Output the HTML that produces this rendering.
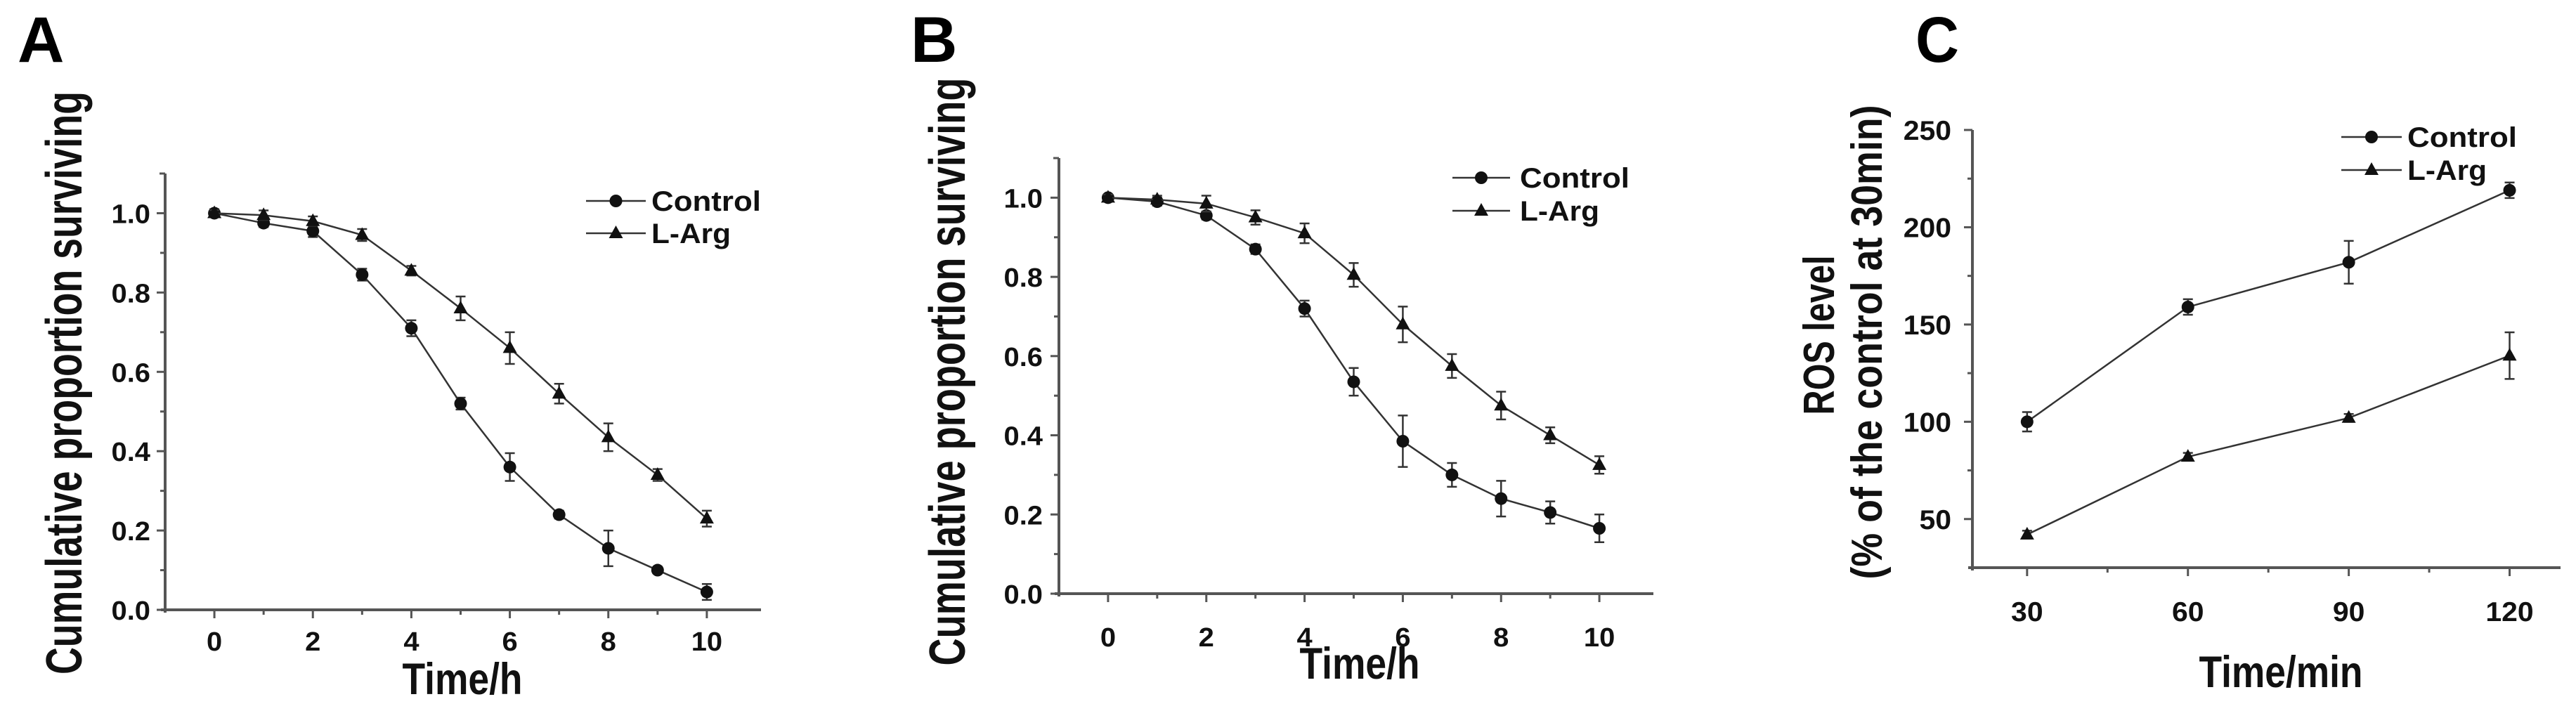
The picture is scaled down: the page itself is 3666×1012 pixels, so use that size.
<!DOCTYPE html>
<html><head><meta charset="utf-8"><style>
html,body{margin:0;padding:0;background:#fff;}
svg{display:block;font-family:"Liberation Sans",Arial,sans-serif;font-weight:bold;}
</style></head><body>
<svg id="fig" width="3666" height="1012" viewBox="0 0 3666 1012" xmlns="http://www.w3.org/2000/svg">
<text x="25" y="88" font-size="92">A</text>
<text x="1296" y="88" font-size="92">B</text>
<text x="2726" y="88" font-size="92" textLength="62" lengthAdjust="spacingAndGlyphs">C</text>
</svg>
<script>
// Panel A data
const hoursA = [0,1,2,3,4,5,6,7,8,9,10];
const ctrlA = [1.0,0.975,0.955,0.845,0.71,0.52,0.36,0.24,0.155,0.10,0.045];
const ctrlErrA = [0.01,0.01,0.015,0.015,0.02,0.015,0.035,0.01,0.045,0.008,0.02];
const argA = [1.0,0.995,0.98,0.945,0.855,0.76,0.66,0.545,0.435,0.34,0.23];
const argErrA = [0.008,0.012,0.012,0.015,0.012,0.03,0.04,0.025,0.035,0.015,0.02];
// Panel B data
const hoursB = [0,1,2,3,4,5,6,7,8,9,10];
const ctrlB = [1.0,0.99,0.955,0.87,0.72,0.535,0.385,0.30,0.24,0.205,0.165];
const ctrlErrB = [0.008,0.01,0.01,0.012,0.02,0.035,0.065,0.03,0.045,0.028,0.035];
const argB = [1.0,0.995,0.985,0.95,0.91,0.805,0.68,0.575,0.475,0.40,0.325];
const argErrB = [0.008,0.01,0.02,0.018,0.025,0.03,0.045,0.03,0.035,0.02,0.022];
// Panel C data
const minutesC = [30,60,90,120];
const ctrlC = [100,159,182,219];
const ctrlErrC = [5,4,11,4];
const argC = [42,82,102,134];
const argErrC = [2,2,2,12];
// tick labels
const survXTicks = [0,2,4,6,8,10];
const survXMinor = [1,3,5,7,9];
const survYTicks = [0.0,0.2,0.4,0.6,0.8,1.0];
const survYMinor = [0.1,0.3,0.5,0.7,0.9,1.1];
const rosXTicks = [30,60,90,120];
const rosXMinor = [45,75,105];
const rosYTicks = [50,100,150,200,250];
const rosYMinor = [75,125,175,225];

const svg = document.getElementById('fig');
const NS = 'http://www.w3.org/2000/svg';
function mk(tag, attrs, parent){
  const e = document.createElementNS(NS, tag);
  for (const k in attrs) e.setAttribute(k, attrs[k]);
  (parent||svg).appendChild(e);
  return e;
}
function drawPanel(p){
  const g = mk('g', {});
  
  
  const sx = v => p.x0 + (v - p.xmin) / (p.xmax - p.xmin) * (p.x1 - p.x0);
  const sy = v => p.y0 - (v - p.ymin) / (p.ymax - p.ymin) * (p.y0 - p.y1);
  const ax = '#555';
  const yA = mk('line', {x1:p.x0, y1:p.y0+4, x2:p.x0, y2:p.y1, stroke:ax, 'stroke-width':4}, g);
  
  
  mk('line', {x1:p.x0, y1:p.y1, x2:p.x0-8, y2:p.y1, stroke:ax, 'stroke-width':3}, g);
  const xA = mk('line', {x1:p.x0-6, y1:p.y0, x2:p.x1, y2:p.y0, stroke:ax, 'stroke-width':4}, g);
  
  
  p.xTicks.forEach(v => {
    mk('line', {x1:sx(v), y1:p.y0, x2:sx(v), y2:p.y0+12, stroke:ax, 'stroke-width':3}, g);
    const t = mk('text', {x:0, y:0, 'font-size':p.tickFs, 'text-anchor':'middle', fill:'#111', transform:`translate(${sx(v)},${p.xLabY}) scale(1.05,1)`}, g);
    t.textContent = v;
    
    
  });
  p.xMinor.forEach(v => mk('line', {x1:sx(v), y1:p.y0, x2:sx(v), y2:p.y0+7, stroke:ax, 'stroke-width':3}, g));
  p.yTicks.forEach(v => {
    mk('line', {x1:p.x0, y1:sy(v), x2:p.x0-12, y2:sy(v), stroke:ax, 'stroke-width':3}, g);
    const t = mk('text', {x:0, y:0, 'font-size':p.tickFs, 'text-anchor':'end', fill:'#111', transform:`translate(${p.yLabX},${sy(v)+14}) scale(1.05,1)`}, g);
    t.textContent = p.yFmt(v);
    
    
  });
  p.yMinor.forEach(v => { if (sy(v) > p.y1 + 3) mk('line', {x1:p.x0, y1:sy(v), x2:p.x0-7, y2:sy(v), stroke:ax, 'stroke-width':3}, g); });
  const series = [
    {name:'control', vals:p.ctrl, errs:p.ctrlErr, marker:'circle'},
    {name:'l-arg', vals:p.arg, errs:p.argErr, marker:'triangle'}
  ];
  series.forEach(s => {
    const pts = p.xs.map((x,i) => sx(x) + ',' + sy(s.vals[i])).join(' ');
    const pl = mk('polyline', {points:pts, fill:'none', stroke:'#333', 'stroke-width':2.5}, g);
    
    
    p.xs.forEach((x,i) => {
      const cx = sx(x), top = sy(s.vals[i] + s.errs[i]), bot = sy(s.vals[i] - s.errs[i]);
      const eb = mk('path', {d:`M${cx},${top}V${bot}M${cx-7},${top}H${cx+7}M${cx-7},${bot}H${cx+7}`, stroke:'#333', 'stroke-width':2.5, fill:'none'}, g);
      
      
      const cy = sy(s.vals[i]);
      let m;
      if (s.marker === 'circle') m = mk('circle', {cx:cx, cy:cy, r:9, fill:'#111'}, g);
      else m = mk('polygon', {points:`${cx},${cy-11} ${cx-10},${cy+7} ${cx+10},${cy+7}`, fill:'#111'}, g);
      
      
    });
  });
  // legend
  const L = p.legend;
  [['Control','circle',L.y1,156],['L-Arg','triangle',L.y2,113]].forEach(([lab,mkr,ly,len]) => {
    const lg = mk('g', {}, g);
    
    
    mk('line', {x1:L.lx1, y1:ly, x2:L.lx2, y2:ly, stroke:'#333', 'stroke-width':2.5}, lg);
    const mx = (L.lx1 + L.lx2)/2;
    if (mkr === 'circle') mk('circle', {cx:mx, cy:ly, r:9, fill:'#111'}, lg);
    else mk('polygon', {points:`${mx},${ly-11} ${mx-10},${ly+7} ${mx+10},${ly+7}`, fill:'#111'}, lg);
    const t = mk('text', {x:L.tx, y:ly+14, 'font-size':40, fill:'#111', textLength:len, lengthAdjust:'spacingAndGlyphs'}, lg);
    t.textContent = lab;
  });
  // axis titles
  const xt = mk('text', {x:p.xTitle.x, y:p.xTitle.y, 'font-size':p.xTitle.fs, 'text-anchor':'middle', fill:'#111', textLength:p.xTitle.len, lengthAdjust:'spacingAndGlyphs'}, g);
  xt.textContent = p.xTitle.text;
  
  
  p.yTitles.forEach((yt,i) => {
    const t = mk('text', {x:0, y:0, 'font-size':yt.fs, 'text-anchor':'middle', fill:'#111', transform:`translate(${yt.x},${yt.y}) rotate(-90)`, textLength:yt.len, lengthAdjust:'spacingAndGlyphs'}, g);
    t.textContent = yt.text;
    
    
  });
}
const f1 = v => v.toFixed(1);
drawPanel({id:'panel-a', x0:235, x1:1083, y0:868, y1:247, xmin:-1, xmax:11.1, ymin:0, ymax:1.1,
  xs:hoursA, ctrl:ctrlA, ctrlErr:ctrlErrA, arg:argA, argErr:argErrA,
  xTicks:survXTicks, xMinor:survXMinor, yTicks:survYTicks, yMinor:survYMinor, yFmt:f1,
  tickFs:38, xLabY:926, yLabX:214,
  legend:{lx1:834, lx2:919, y1:286, y2:332, tx:927},
  xTitle:{text:'Time/h', x:658, y:988, fs:63, len:171},
  yTitles:[{text:'Cumulative proportion surviving', x:116, y:545, fs:72, len:830}]});
drawPanel({id:'panel-b', x0:1507, x1:2353, y0:845, y1:225, xmin:-1, xmax:11.1, ymin:0, ymax:1.1,
  xs:hoursB, ctrl:ctrlB, ctrlErr:ctrlErrB, arg:argB, argErr:argErrB,
  xTicks:survXTicks, xMinor:survXMinor, yTicks:survYTicks, yMinor:survYMinor, yFmt:f1,
  tickFs:38, xLabY:920, yLabX:1484,
  legend:{lx1:2067, lx2:2149, y1:253, y2:300, tx:2163},
  xTitle:{text:'Time/h', x:1935, y:966, fs:63, len:171},
  yTitles:[{text:'Cumulative proportion surviving', x:1373, y:529, fs:72, len:837}]});
drawPanel({id:'panel-c', x0:2807, x1:3644, y0:808, y1:185, xmin:19.8, xmax:129.5, ymin:25, ymax:250,
  xs:minutesC, ctrl:ctrlC, ctrlErr:ctrlErrC, arg:argC, argErr:argErrC,
  xTicks:rosXTicks, xMinor:rosXMinor, yTicks:rosYTicks, yMinor:rosYMinor, yFmt:v => String(v),
  tickFs:39, xLabY:884, yLabX:2777,
  legend:{lx1:3332, lx2:3418, y1:195, y2:242, tx:3426},
  xTitle:{text:'Time/min', x:3246, y:978, fs:63, len:233},
  yTitles:[{text:'ROS level', x:2610, y:477, fs:62, len:227},
           {text:'(% of the control at 30min)', x:2678, y:487, fs:62, len:675}]});
</script>
</body></html>
